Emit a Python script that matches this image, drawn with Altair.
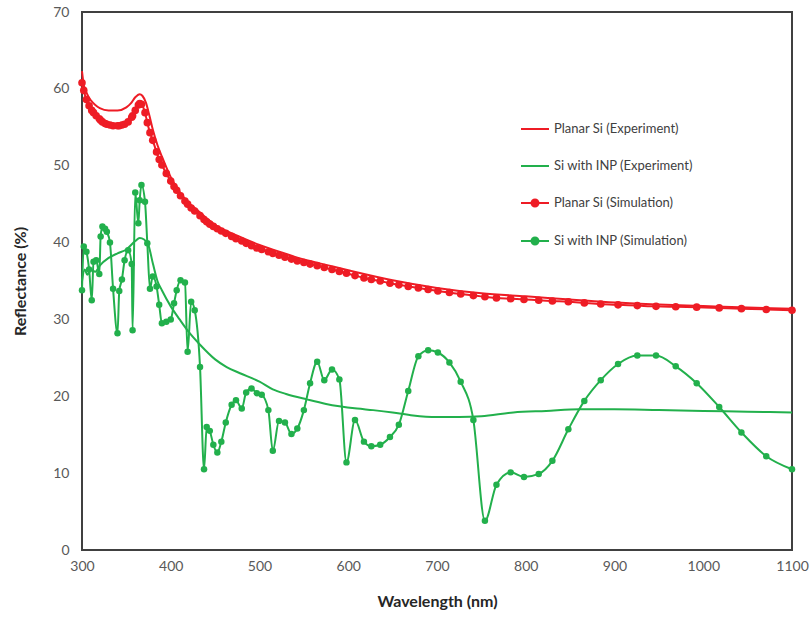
import altair as alt
import pandas as pd

series_names = ["Planar Si (Experiment)", "Si with INP (Experiment)",
                "Planar Si (Simulation)", "Si with INP (Simulation)"]
series_colors = ["#EE1C25", "#22B04C", "#EE1C25", "#22B04C"]

x_ticks = [300, 400, 500, 600, 700, 800, 900, 1000, 1100]
y_ticks = [0, 10, 20, 30, 40, 50, 60, 70]

# Planar Si (Experiment)
pe_wl = [300, 302, 305, 310, 315, 320, 330, 340, 350, 355,
         360, 365, 368, 372, 376, 380, 385, 390, 400, 410,
         420, 430, 440, 450, 475, 500, 525, 550, 575, 600,
         650, 700, 750, 800, 850, 900, 950, 1000, 1050, 1100]
pe_r = [62.3, 60.5, 59.5, 58.5, 57.9, 57.5, 57.2, 57.2, 57.6, 58.1,
        58.9, 59.3, 59.1, 58.2, 56.5, 54.6, 52.7, 51.2, 48.5, 46.6,
        45.2, 44.2, 43.2, 42.3, 40.9, 39.7, 38.7, 37.8, 37.1, 36.4,
        35.1, 34.1, 33.4, 33.0, 32.6, 32.2, 31.95, 31.75, 31.55, 31.4]

# Si with INP (Experiment)
ge_wl = [300, 303, 306, 310, 315, 320, 330, 340, 350, 360,
         365, 370, 375, 380, 385, 390, 400, 410, 420, 433,
         450, 463, 478, 500, 515, 530, 553, 575, 590, 610,
         628, 650, 673, 700, 725, 750, 786, 823, 861, 900,
         950, 1000, 1050, 1100]
ge_r = [35.0, 36.5, 35.8, 36.5, 36.2, 37.0, 38.0, 38.6, 39.1, 40.2,
        40.6, 40.4, 39.6, 37.2, 35.0, 33.8, 31.7, 30.0, 28.4, 26.7,
        24.8, 23.8, 23.0, 21.9, 20.9, 20.3, 19.6, 19.0, 18.7, 18.4,
        18.2, 17.9, 17.5, 17.3, 17.3, 17.4, 17.9, 18.1, 18.3, 18.3,
        18.2, 18.1, 18.0, 17.9]

# Simulation wavelength grid (shared by both simulated series)
sim_wl = [300, 302, 305, 308, 311, 313, 316, 319.5, 321, 323,
          326, 328, 331.5, 335, 340, 342, 345, 348, 352, 356,
          357, 360, 363.5, 365, 367, 371, 373.6, 376.6, 379.7, 384,
          387, 390, 395, 400, 403.7, 406.7, 411, 416, 419, 423,
          427, 433, 437.5, 440.5, 444, 448, 452.5, 457, 462, 468.6,
          473.5, 480, 485, 491, 497, 502.5, 510, 515, 522, 528.7,
          536, 542.6, 550, 557, 565, 573, 581.7, 590, 598, 607.6,
          617.7, 626, 636, 647, 657, 667.6, 679, 690, 701, 714,
          726.7, 741, 754, 767, 783, 798, 814.6, 830, 848, 866,
          884.5, 904, 925.7, 946.8, 969, 992.6, 1018, 1043, 1071, 1100]

# Planar Si (Simulation)
ps_r = [60.8, 59.8, 58.6, 57.8, 57.2, 56.9, 56.5, 56.1, 55.9, 55.7,
        55.5, 55.4, 55.3, 55.2, 55.2, 55.2, 55.3, 55.4, 55.7, 56.3,
        56.5, 57.2, 57.9, 58.1, 58.0, 56.9, 55.6, 54.3, 53.3, 51.8,
        50.8, 50.1, 49.0, 48.0, 47.3, 46.8, 46.1, 45.4, 45.0, 44.5,
        44.1, 43.5, 43.0, 42.7, 42.4, 42.1, 41.8, 41.5, 41.2, 40.8,
        40.5, 40.2, 39.9, 39.6, 39.3, 39.1, 38.8, 38.6, 38.35, 38.1,
        37.85, 37.6, 37.4, 37.2, 37.0, 36.75, 36.5, 36.25, 36.0, 35.7,
        35.4, 35.2, 35.0, 34.7, 34.5, 34.3, 34.1, 33.9, 33.7, 33.5,
        33.3, 33.1, 32.95, 32.8, 32.7, 32.6, 32.5, 32.4, 32.3, 32.15,
        32.0, 31.9, 31.8, 31.7, 31.65, 31.6, 31.5, 31.4, 31.3, 31.2]

# Si with INP (Simulation)
gs_r = [33.8, 39.5, 38.8, 36.5, 32.5, 37.5, 37.7, 35.9, 40.8, 42.1,
        41.8, 41.4, 40.0, 34.0, 28.2, 33.7, 35.2, 37.7, 39.0, 37.2,
        28.6, 46.5, 42.5, 45.5, 47.5, 45.3, 39.9, 34.0, 35.6, 34.3,
        31.9, 29.5, 29.7, 30.0, 32.1, 33.8, 35.1, 34.8, 25.8, 32.3,
        31.2, 23.8, 10.5, 16.0, 15.5, 13.7, 12.7, 14.1, 16.6, 18.9,
        19.5, 18.4, 20.5, 21.0, 20.4, 20.2, 18.2, 12.9, 16.8, 16.6,
        15.1, 15.8, 18.2, 21.7, 24.5, 22.1, 23.5, 22.2, 11.4, 16.9,
        14.1, 13.5, 13.7, 14.7, 16.3, 20.7, 25.2, 26.0, 25.7, 24.4,
        21.9, 16.9, 3.8, 8.5, 10.1, 9.5, 9.9, 11.6, 15.7, 19.4,
        22.1, 24.2, 25.3, 25.3, 23.9, 21.7, 18.6, 15.3, 12.2, 10.5]

exp_df = pd.concat([
    pd.DataFrame({"wl": pe_wl, "r": pe_r, "s": series_names[0]}),
    pd.DataFrame({"wl": ge_wl, "r": ge_r, "s": series_names[1]}),
])
sim_df = pd.concat([
    pd.DataFrame({"wl": sim_wl, "r": ps_r, "s": series_names[2]}),
    pd.DataFrame({"wl": sim_wl, "r": gs_r, "s": series_names[3]}),
])

FONT = "Lato"
# scale used by the drawn marks (domain listed in another order so that its
# hidden legend is not merged with the visible one below)
mark_color_scale = alt.Scale(domain=series_names[::-1], range=series_colors[::-1])
legend_color_scale = alt.Scale(domain=series_names, range=series_colors)
line_sym = "M-1,0L1,0"
dot_sym = ("M-1,0L1,0M-0.25,0A0.25,0.25,0,1,1,0.25,0"
           "A0.25,0.25,0,1,1,-0.25,0Z")
shape_scale = alt.Scale(domain=series_names,
                        range=[line_sym, line_sym, dot_sym, dot_sym])

x_enc = alt.X("wl:Q",
              scale=alt.Scale(domain=[300, 1100], nice=False, zero=False),
              axis=alt.Axis(values=x_ticks, title="Wavelength (nm)", format="d",
                            labelFlush=False, titlePadding=20, labelPadding=9))
y_enc = alt.Y("r:Q", scale=alt.Scale(domain=[0, 70], nice=False),
              axis=alt.Axis(values=y_ticks, title="Reflectance (%)", format="d",
                            titlePadding=24, labelPadding=13))

exp_lines = alt.Chart(exp_df).mark_line(strokeWidth=2, interpolate="monotone").encode(
    x=x_enc, y=y_enc,
    color=alt.Color("s:N", scale=mark_color_scale, legend=None),
)
sim_lines = alt.Chart(sim_df).mark_line(strokeWidth=2, interpolate="monotone").encode(
    x=x_enc, y=y_enc,
    color=alt.Color("s:N", scale=mark_color_scale, legend=None),
)
sim_pts = alt.Chart(sim_df).mark_circle(opacity=1).encode(
    x=x_enc, y=y_enc,
    color=alt.Color("s:N", scale=mark_color_scale, legend=None),
    size=alt.Size("s:N", scale=alt.Scale(domain=series_names[2:], range=[58, 42]),
                  legend=None),
)

leg = alt.Legend(title=None, orient="none", legendX=438, legendY=102,
                 padding=0, symbolSize=784, symbolStrokeWidth=2,
                 symbolOpacity=1, rowPadding=15, labelOffset=4,
                 labelFontSize=13, labelColor="#404040", labelFont=FONT,
                 labelLimit=300)
legend_layer = alt.Chart(exp_df).mark_point(filled=True, size=0, strokeWidth=0).encode(
    x=x_enc, y=y_enc,
    fill=alt.Fill("s:N", scale=legend_color_scale, legend=leg),
    stroke=alt.Stroke("s:N", scale=legend_color_scale, legend=leg),
    shape=alt.Shape("s:N", scale=shape_scale, legend=leg),
)

chart = alt.layer(exp_lines, sim_lines, sim_pts, legend_layer).resolve_scale(
    size="independent"
).properties(
    width=710, height=538,
    autosize=alt.AutoSizeParams(type="none"),
    padding={"left": 82, "top": 12, "right": 20, "bottom": 69},
    background="white",
).configure_view(
    stroke="#404040", strokeWidth=2
).configure_axis(
    domain=False, ticks=False, grid=False,
    labelFont=FONT, labelFontSize=14, labelColor="#595959",
    titleFont=FONT, titleFontSize=16, titleFontWeight="bold",
    titleColor="#262626",
)

chart.save("out.html", embed_options={"renderer": "svg", "actions": False})
